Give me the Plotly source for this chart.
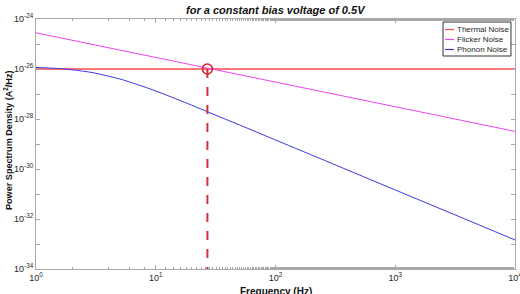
import plotly.graph_objects as go

# ---- data ----
freq_ends = [1, 10000]
thermal_psd = [1e-26, 1e-26]
flicker_psd = [2.8e-25, 3.2e-29]

phonon_freq = [1, 1.5, 2, 3, 4, 5, 7, 10, 15, 20, 30, 50, 100, 300, 1000, 3000, 10000]
phonon_psd = [1.15e-26, 1.05e-26, 9.3e-27, 7.1e-27, 5.2e-27, 4.0e-27, 2.4e-27, 1.32e-27,
              6.2e-28, 3.55e-28, 1.58e-28, 5.8e-29, 1.45e-29, 1.62e-30, 1.45e-31, 1.62e-32, 1.45e-33]

cross_freq = [27]
cross_psd = [1e-26]
drop_freq = [27, 27]
drop_psd = [1e-26, 1e-34]

x_tickvals = [1, 10, 100, 1000, 10000]
x_ticktext = ["10<sup>0</sup>", "10<sup>1</sup>", "10<sup>2</sup>", "10<sup>3</sup>", "10<sup>4</sup>"]
y_exps = [-24, -25, -26, -27, -28, -29, -30, -31, -32, -33, -34]

series_names = ["Thermal Noise", "Flicker Noise", "Phonon Noise"]
series_colors = ["#ff4a4a", "#ee44ee", "#3a3adf"]

title_text = "for a constant bias voltage of 0.5V"
x_title = "Frequency (Hz)"
y_title = "Power Spectrum Density (A<sup>2</sup>/Hz)"

fig = go.Figure()
fig.add_trace(go.Scatter(x=freq_ends, y=thermal_psd, mode="lines", name=series_names[0],
                         line=dict(color=series_colors[0], width=1.5)))
fig.add_trace(go.Scatter(x=freq_ends, y=flicker_psd, mode="lines", name=series_names[1],
                         line=dict(color=series_colors[1], width=1)))
fig.add_trace(go.Scatter(x=phonon_freq, y=phonon_psd, mode="lines", name=series_names[2],
                         line=dict(color=series_colors[2], width=1, shape="spline")))
fig.add_trace(go.Scatter(x=drop_freq, y=drop_psd, mode="lines", showlegend=False,
                         line=dict(color="#d2303a", width=2, dash="dash")))
fig.add_trace(go.Scatter(x=cross_freq, y=cross_psd, mode="markers", showlegend=False,
                         marker=dict(symbol="circle-open", size=10, color="#e0202a",
                                     line=dict(width=1.6, color="#e0202a"))))

y_tickvals = [10 ** e for e in y_exps]
y_ticktext = [("10<sup>%d</sup>" % e) if e % 2 == 0 else "" for e in y_exps]

axis_common = dict(showgrid=False, zeroline=False, showline=True, linecolor="#a8a8a8",
                   linewidth=1, mirror="ticks", ticks="inside", ticklen=4,
                   tickcolor="#a8a8a8", ticklabeloverflow="allow", automargin=False,
                   tickfont=dict(family="Liberation Sans, Arial", size=9, color="#262626"))

fig.update_xaxes(type="log", range=[0, 4], tickvals=x_tickvals, ticktext=x_ticktext,
                 minor=dict(ticks="inside", ticklen=2, tickcolor="#a8a8a8"), **axis_common)
fig.update_yaxes(type="log", range=[-34, -24], tickvals=y_tickvals, ticktext=y_ticktext,
                 **axis_common)

# custom compact legend (MATLAB style)
lx0, lx1, ly0, ly1 = 0.8497, 0.9916, 0.852, 0.988
shapes = [dict(type="rect", xref="paper", yref="paper", x0=lx0, x1=lx1, y0=ly0, y1=ly1,
               line=dict(color="#333333", width=1), fillcolor="white", layer="above")]
annotations = []
row_y = [0.958, 0.918, 0.878]
for name, col, ry in zip(series_names, series_colors, row_y):
    shapes.append(dict(type="line", xref="paper", yref="paper", x0=0.8539, x1=0.8727,
                       y0=ry, y1=ry, line=dict(color=col, width=1.2), layer="above"))
    annotations.append(dict(text=name, xref="paper", yref="paper", x=0.8745, y=ry,
                            xanchor="left", yanchor="middle", showarrow=False,
                            font=dict(size=8, color="#262626")))

annotations += [
    dict(text="<b><i>" + title_text + "</i></b>", xref="paper", yref="paper",
         x=0.5, y=1.0, yshift=9, xanchor="center", yanchor="middle",
         showarrow=False, font=dict(size=11, color="#111111")),
    dict(text="<b>" + x_title + "</b>", xref="paper", yref="paper",
         x=0.5, y=0, yshift=-15, xanchor="center", yanchor="top",
         showarrow=False, font=dict(size=10, color="#111111")),
    dict(text="<b>" + y_title + "</b>", xref="paper", yref="paper",
         x=0, xshift=-28, y=0.5, yshift=3, xanchor="center", yanchor="middle",
         textangle=-90, showarrow=False, font=dict(size=9.1, color="#111111")),
]

fig.update_layout(
    width=520, height=294,
    margin=dict(l=36, r=5, t=19, b=25),
    paper_bgcolor="white", plot_bgcolor="white",
    font=dict(family="Liberation Sans, Arial", color="#262626"),
    showlegend=False,
    shapes=shapes,
    annotations=annotations,
)

fig.write_html("out.html")
